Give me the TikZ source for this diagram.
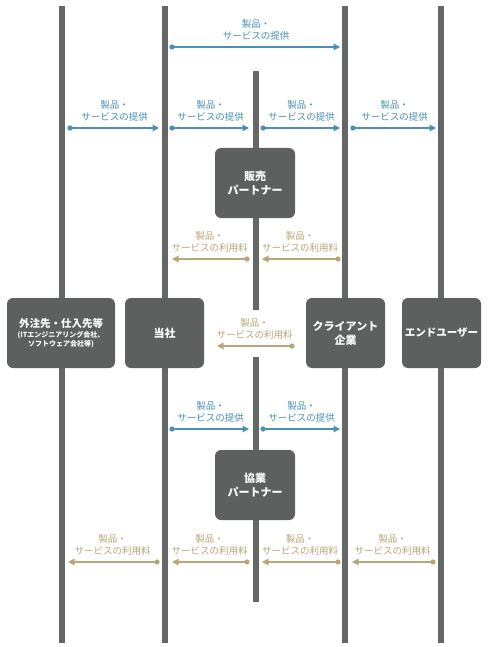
\documentclass[tikz,border=0pt]{standalone}
\usepackage{fontspec}
\setmainfont{Noto Sans CJK JP}
\usetikzlibrary{arrows.meta}
\definecolor{barc}{HTML}{666767}
\definecolor{boxc}{HTML}{5E6060}
\definecolor{provc}{HTML}{4A90B5}
\definecolor{feec}{HTML}{B8A677}
\begin{document}
\begin{tikzpicture}[x=1pt,y=-1pt,
  barline/.style={line width=6pt, draw=barc},
  box/.style={fill=boxc, rounded corners=6pt, minimum width=80pt, minimum height=70pt,
    text=white, font=\bfseries\fontsize{11}{14}\selectfont, align=center, inner sep=0pt},
  provarrow/.style={draw=provc, line width=1.1pt, -{Triangle[length=6.5pt,width=6.5pt]}},
  feearrow/.style={draw=feec, line width=1.1pt, -{Triangle[length=6.5pt,width=6.5pt]}},
  provlbl/.style={text=provc, font=\fontsize{9.5}{12}\selectfont, align=center, inner sep=0pt, midway, yshift=17pt},
  feelbl/.style={text=feec, font=\fontsize{9.5}{12}\selectfont, align=center, inner sep=0pt, midway, yshift=17pt}
]
\useasboundingbox (0,0) rectangle (489,647);
\fill[white] (0,0) rectangle (489,647);

% vertical bars
\foreach \n/\x in {a/62,b/165,d/345,e/441}{
  \coordinate (\n top) at (\x,6);
  \coordinate (\n bot) at (\x,643);
  \draw[barline] (\n top) -- (\n bot);
}
\coordinate (ctop) at (256,71);
\coordinate (cmid1) at (256,310);
\coordinate (cmid2) at (256,357);
\coordinate (cbot) at (256,602);
\draw[barline] (ctop) -- (cmid1);
\draw[barline] (cmid2) -- (cbot);

% boxes
\node[box] (hanbai) at (255,183) {販売\\パートナー};
\node[box] (kyogyo) at (255,485) {協業\\パートナー};
\node[box, minimum width=108pt] (gaichu) at (61,333) {};
\node[text=white, font=\bfseries\fontsize{10.5}{12}\selectfont, inner sep=0pt] (gaichuA) at (61,323) {外注先・仕入先等};
\node[text=white, font=\bfseries\fontsize{7}{9}\selectfont, align=center, inner sep=0pt] (gaichuB) at (61,340) {(ITエンジニアリング会社、\\ソフトウェア会社等)};
\node[box, minimum width=79pt] (tosha) at (164.5,333) {当社};
\node[box, minimum width=79pt] (client) at (345.5,333) {クライアント\\企業};
\node[box, minimum width=79pt, font=\bfseries\fontsize{10.5}{14}\selectfont] (enduser) at (441.5,333) {エンドユーザー};

% provision arrows (blue)
\foreach \n/\xa/\xb/\y in {t/172/340/47, r1/70/159/128, r2/172/249/128, r3/263/340/128, r4/353/436/128, k1/172/249/429, k2/263/340/429}{
  \coordinate (p\n s) at (\xa,\y);
  \coordinate (p\n e) at (\xb,\y);
  \draw[provarrow] (p\n s) -- (p\n e) node[provlbl] {製品・\\サービスの提供};
  \fill[provc] (p\n s) circle (2.6pt);
}

% fee arrows (gold)
\foreach \n/\xa/\xb/\y in {h1/247/172/259, h2/338/262/259, m/292/217/346, b1/157/68/562, b2/247/172/562, b3/338/262/562, b4/433/352/562}{
  \coordinate (f\n s) at (\xa,\y);
  \coordinate (f\n e) at (\xb,\y);
  \draw[feearrow] (f\n s) -- (f\n e) node[feelbl] {製品・\\サービスの利用料};
  \fill[feec] (f\n s) circle (2.6pt);
}
\end{tikzpicture}
\end{document}
